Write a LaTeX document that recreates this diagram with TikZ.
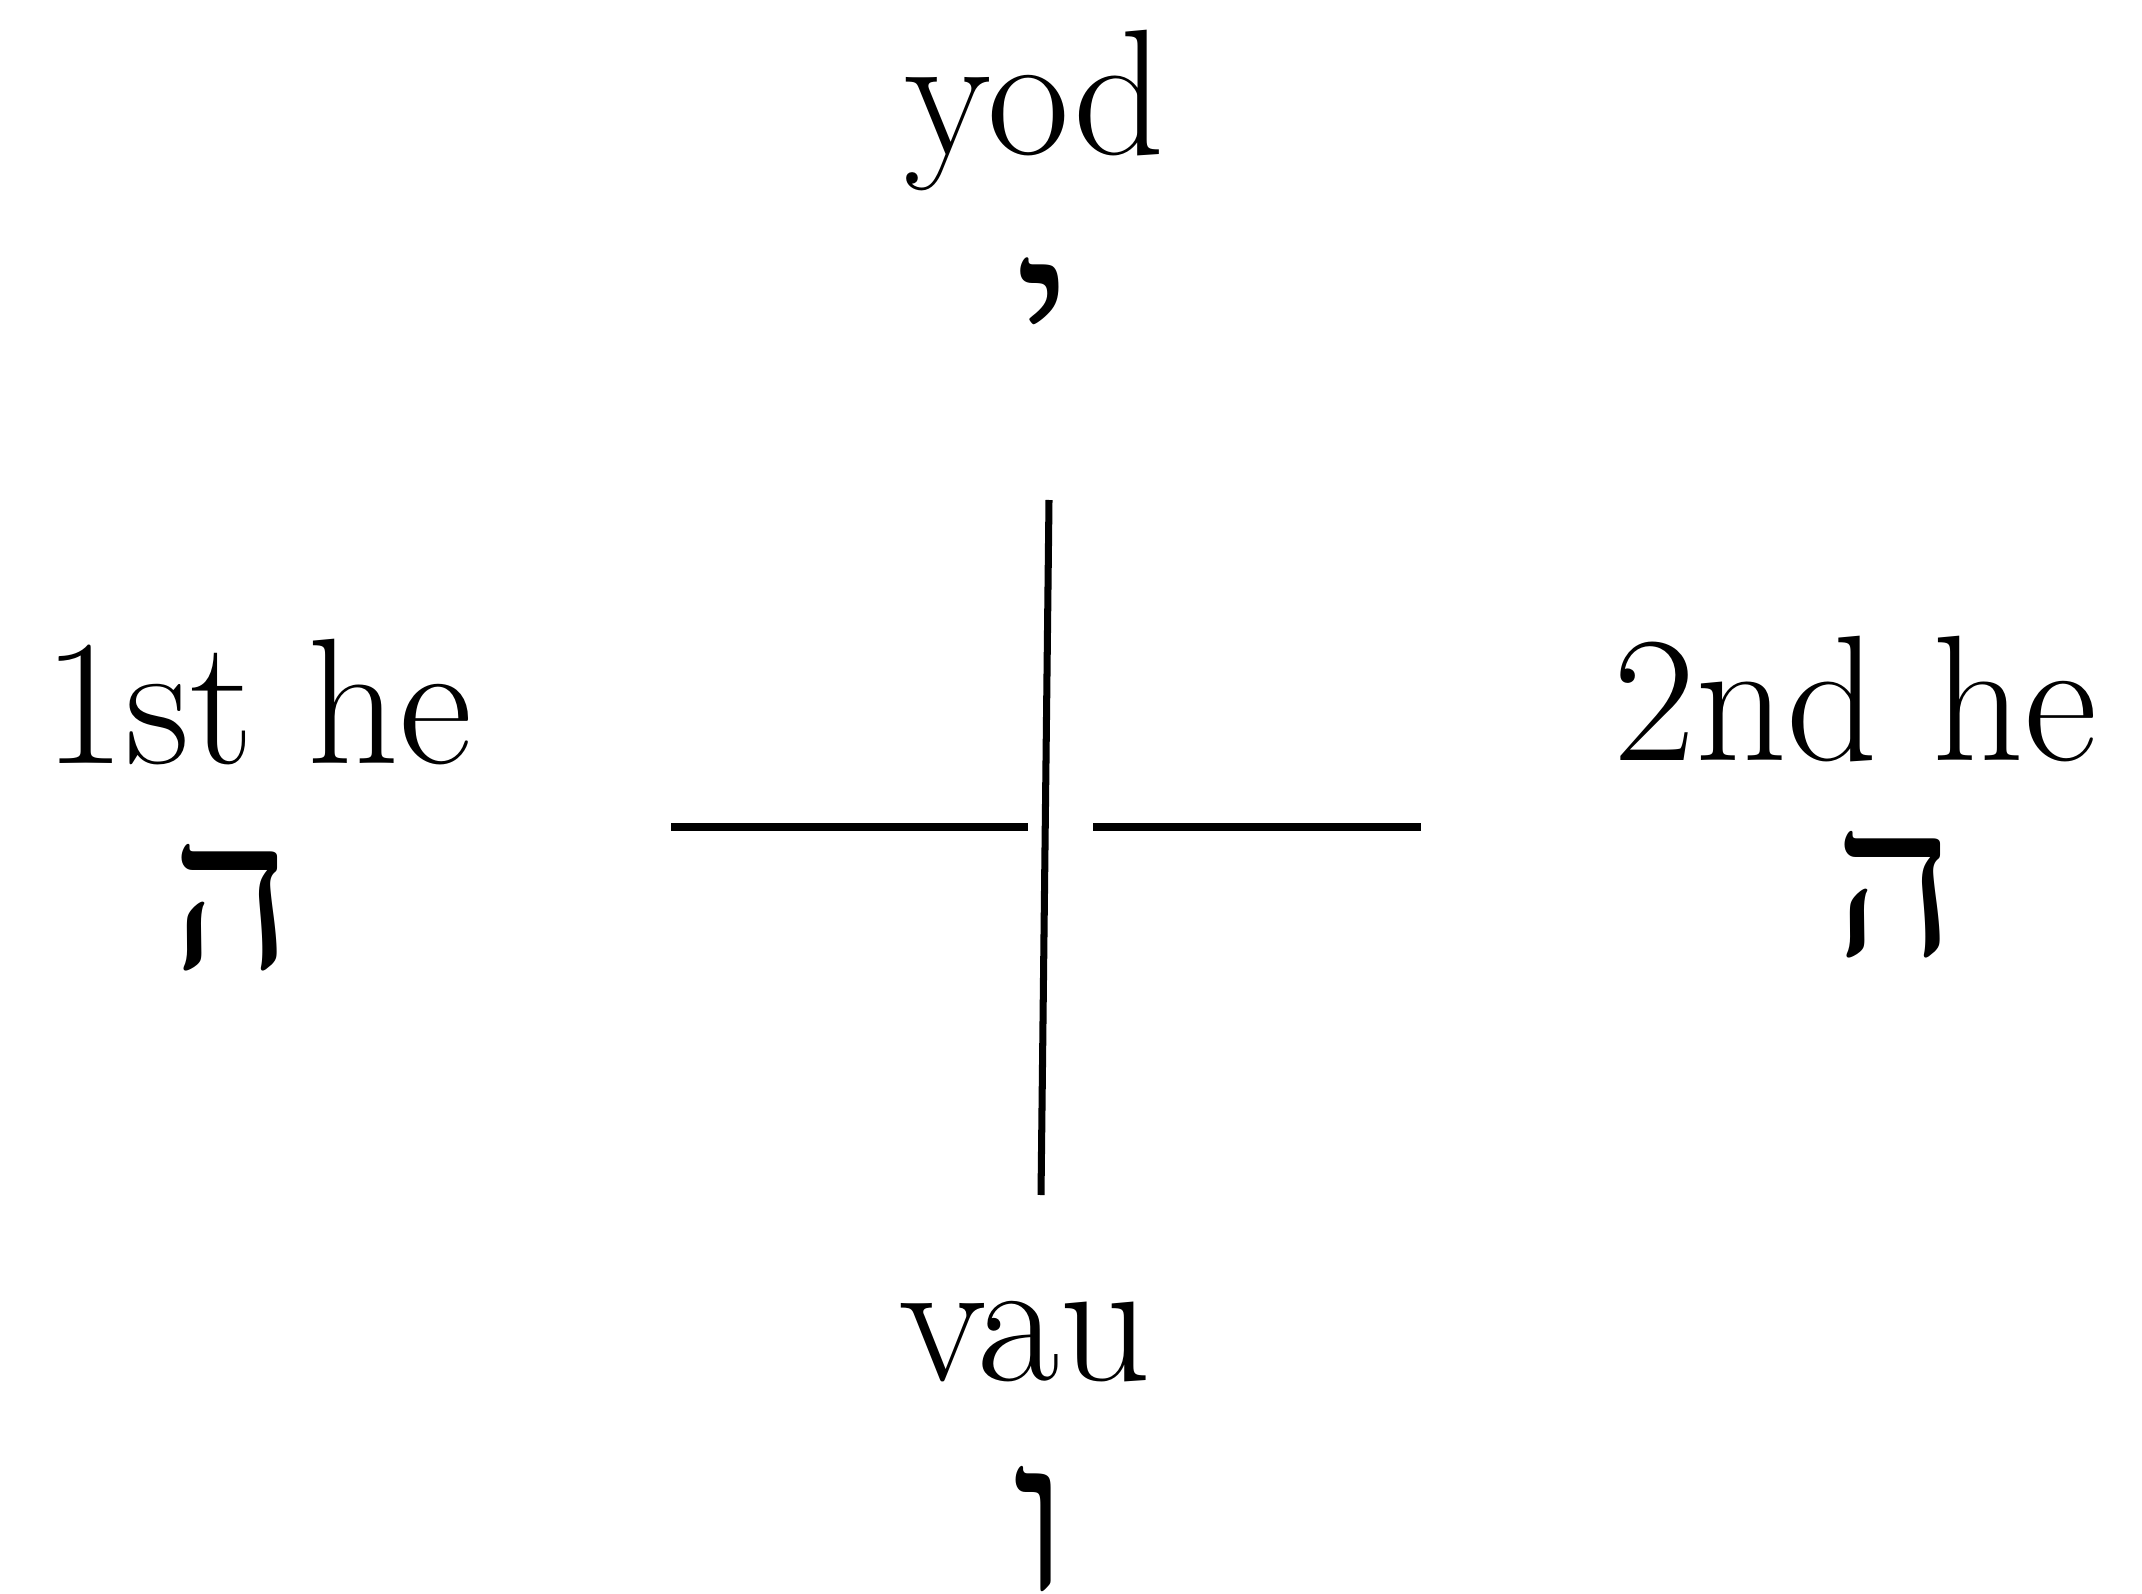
\documentclass[tikz,border=0pt]{standalone}
\usepackage{fontspec}
\TeXXeTstate=1
\newfontfamily\hebfont[Script=Hebrew]{Liberation Serif}

\begin{document}
\begin{tikzpicture}[
    word/.style={font=\fontsize{51}{60}\selectfont, inner sep=0pt, anchor=base},
    letter/.style={font=\hebfont\fontsize{60}{66}\selectfont, inner sep=0pt, anchor=base},
    bar/.style={black, line width=2pt},
  ]

  % Page frame (2142 x 1594 px, 1 px = 0.01 cm)
  \useasboundingbox (0,0) rectangle (21.42,-15.94);

  % === Names of the four letters ===
  \node[word] (yodname) at (10.35,-1.55) {yod};
  \node[word] (he1name) at (2.58,-7.63) {1st he};
  \node[word] (he2name) at (18.55,-7.60) {2nd he};
  \node[word] (vauname) at (10.25,-13.80) {vau};

  % === The Hebrew letters ===
  \node[letter] (yod) at (10.43,-3.82) {\hebfont\beginR י\endR};
  \node[letter] (he1) at (2.32,-9.68) {\hebfont\beginR ה\endR};
  \node[letter] (he2) at (18.95,-9.55) {\hebfont\beginR ה\endR};
  \node[letter] (vau) at (10.40,-15.90) {\hebfont\beginR ו\endR};

  % === The cross ===
  \coordinate (crosstop) at (10.49,-5.00);
  \coordinate (crossbot) at (10.41,-11.95);
  \coordinate (crossleft) at (6.71,-8.27);
  \coordinate (gapleft) at (10.28,-8.27);
  \coordinate (gapright) at (10.93,-8.27);
  \coordinate (crossright) at (14.21,-8.27);

  \draw[bar] (crosstop) -- (crossbot);
  \draw[bar] (crossleft) -- (gapleft);
  \draw[bar] (gapright) -- (crossright);

\end{tikzpicture}
\end{document}
